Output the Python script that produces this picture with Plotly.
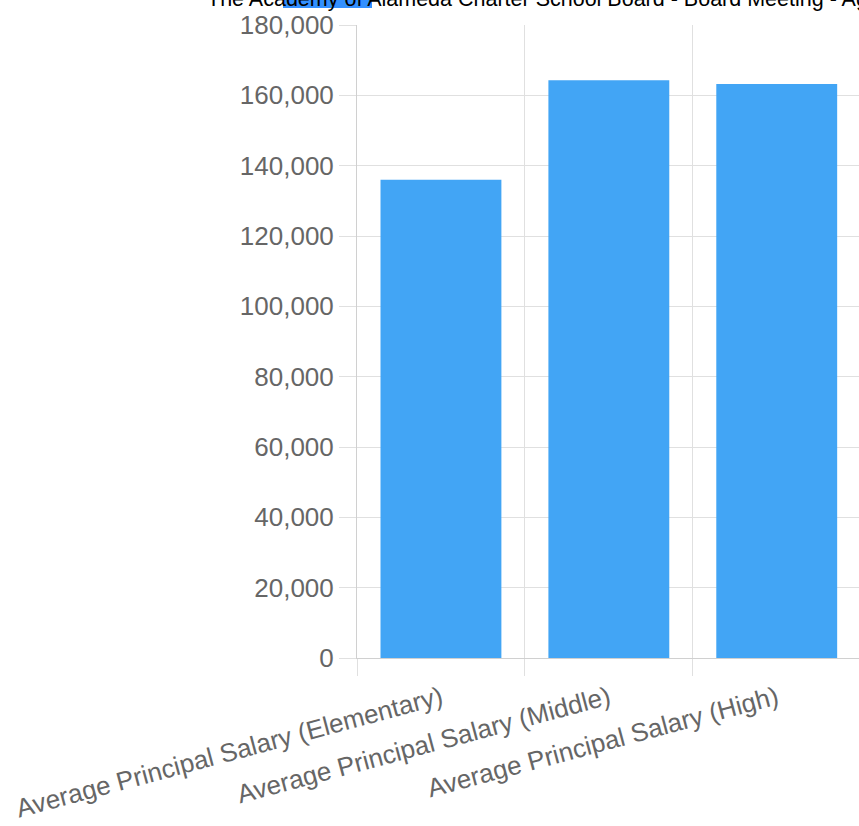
import plotly.graph_objects as go

categories = [
    "Average Principal Salary (Elementary)",
    "Average Principal Salary (Middle)",
    "Average Principal Salary (High)",
]
salaries = [136000, 164300, 163200]
title_text = "The Academy of Alameda Charter School Board - Board Meeting - Agenda - Thursday"

W, H = 859, 826
L, R, T, B = 357, 0, 25, 168

fig = go.Figure(go.Bar(
    x=categories, y=salaries,
    marker=dict(color="#42a5f5", line=dict(width=0)),
    width=0.72,
))

font = dict(family="Liberation Sans, Arial, sans-serif", size=26, color="#666666")

fig.update_layout(
    width=W, height=H,
    margin=dict(l=L, r=R, t=T, b=B, pad=0),
    paper_bgcolor="white", plot_bgcolor="white",
    showlegend=False,
    font=font,
)
fig.update_xaxes(
    range=[-0.5, 2.49],
    tickson="boundaries",
    showgrid=True, gridcolor="#e0e0e0", gridwidth=1,
    ticks="outside", ticklen=17, tickcolor="#e0e0e0",
    tickangle=-15,
    ticklabelstandoff=14,
    tickfont=font,
    showline=True, linecolor="#d0d0d0",
    automargin=False,
)
fig.update_yaxes(
    range=[0, 180000], dtick=20000, tickformat=",",
    showgrid=True, gridcolor="#e0e0e0", gridwidth=1,
    ticks="outside", ticklen=17, tickcolor="#e0e0e0",
    ticklabelstandoff=0,
    tickfont=dict(family="Liberation Sans, Arial, sans-serif", size=26, color="#666666"),
    showline=True, linecolor="#d0d0d0",
    zeroline=False,
    automargin=False,
)

# partially clipped page title with text-selection highlight
fig.add_shape(type="rect", xref="paper", yref="paper",
              x0=(283 - L) / (W - L - R), x1=(372 - L) / (W - L - R),
              y0=1 + (T - 8) / (H - T - B), y1=1 + T / (H - T - B),
              fillcolor="#3390ff", line=dict(width=0), layer="below")
fig.add_annotation(text=title_text, xref="paper", yref="paper",
                   x=(205 - L) / (W - L - R), xanchor="left",
                   y=1 + (T - 8) / (H - T - B), yanchor="bottom", yshift=-5,
                   showarrow=False,
                   font=dict(family="Liberation Sans, Arial, sans-serif", size=21.5, color="#000000"))

fig.write_html("out.html")
